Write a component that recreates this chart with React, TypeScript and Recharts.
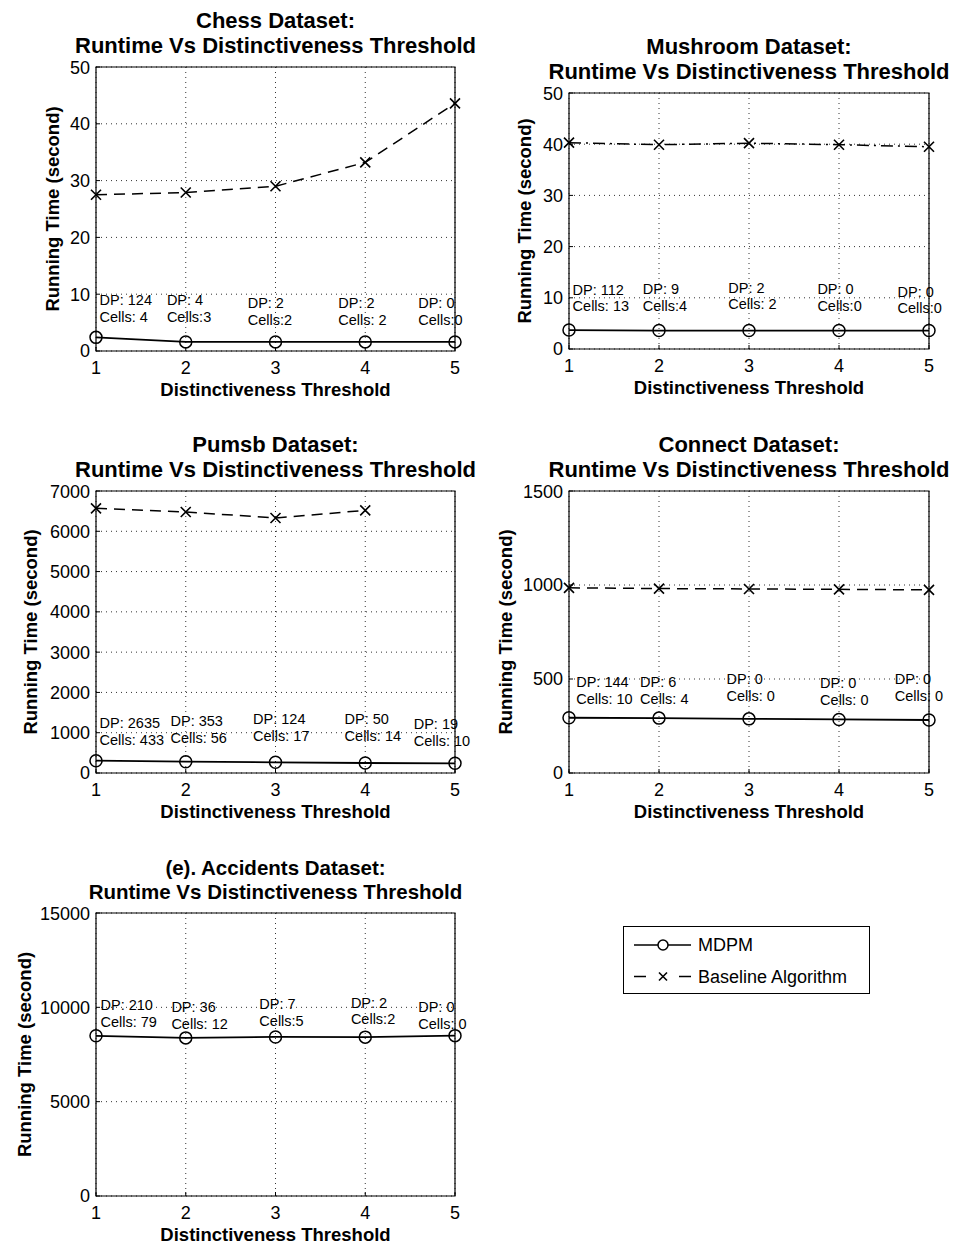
import React from "react";
import {
  LineChart,
  Line,
  XAxis,
  YAxis,
  CartesianGrid,
  ReferenceArea,
  ReferenceDot,
  Legend,
} from "recharts";

const FONT = '"Liberation Sans", Arial, Helvetica, sans-serif';

// x values shared by all five plots
const thresholds = [1, 2, 3, 4, 5];

// Chess
const chessMdpm = [2.4, 1.6, 1.6, 1.6, 1.6];
const chessBaseline = [27.5, 27.9, 29.0, 33.2, 43.6];
const chessDP = ["DP: 124", "DP: 4", "DP: 2", "DP: 2", "DP: 0"];
const chessCells = ["Cells: 4", "Cells:3", "Cells:2", "Cells: 2", "Cells:0"];
const chessNoteX = [1.04, 1.79, 2.69, 3.7, 4.59];
const chessNoteY = [9.0, 9.0, 8.4, 8.4, 8.4];
const chessTicks = [0, 10, 20, 30, 40, 50];

// Mushroom
const mushroomMdpm = [3.7, 3.6, 3.6, 3.6, 3.6];
const mushroomBaseline = [40.3, 39.9, 40.2, 39.9, 39.5];
const mushroomDP = ["DP: 112", "DP: 9", "DP: 2", "DP: 0", "DP: 0"];
const mushroomCells = ["Cells: 13", "Cells:4", "Cells: 2", "Cells:0", "Cells:0"];
const mushroomNoteX = [1.04, 1.82, 2.77, 3.76, 4.65];
const mushroomNoteY = [11.6, 11.7, 12.0, 11.7, 11.2];
const mushroomTicks = [0, 10, 20, 30, 40, 50];

// Pumsb (baseline has no run at threshold 5)
const pumsbMdpm = [305, 280, 265, 248, 240];
const pumsbBaseline = [6570, 6480, 6330, 6520, null];
const pumsbDP = ["DP: 2635", "DP: 353", "DP: 124", "DP: 50", "DP: 19"];
const pumsbCells = ["Cells: 433", "Cells: 56", "Cells: 17", "Cells: 14", "Cells: 10"];
const pumsbNoteX = [1.04, 1.83, 2.75, 3.77, 4.54];
const pumsbNoteY = [1232, 1289, 1346, 1346, 1215];
const pumsbTicks = [0, 1000, 2000, 3000, 4000, 5000, 6000, 7000];

// Connect
const connectMdpm = [294, 292, 288, 285, 282];
const connectBaseline = [985, 981, 979, 977, 974];
const connectDP = ["DP: 144", "DP: 6", "DP: 0", "DP: 0", "DP: 0"];
const connectCells = ["Cells: 10", "Cells: 4", "Cells: 0", "Cells: 0", "Cells: 0"];
const connectNoteX = [1.08, 1.79, 2.75, 3.79, 4.62];
const connectNoteY = [482, 482, 498, 477, 498];
const connectTicks = [0, 500, 1000, 1500];

// Accidents (baseline did not finish)
const accidentsMdpm = [8490, 8380, 8430, 8420, 8500];
const accidentsBaseline = [null, null, null, null, null];
const accidentsDP = ["DP: 210", "DP: 36", "DP: 7", "DP: 2", "DP: 0"];
const accidentsCells = ["Cells: 79", "Cells: 12", "Cells:5", "Cells:2", "Cells: 0"];
const accidentsNoteX = [1.05, 1.84, 2.82, 3.84, 4.59];
const accidentsNoteY = [10110, 10020, 10165, 10250, 10020];
const accidentsTicks = [0, 5000, 10000, 15000];

const legendOrder = ["mdpm", "baseline"];

const ML = 90;
const MT = 10;
const MB = 60;

const Cross = (props: any) => {
  const { cx, cy, index, value } = props;
  if (cx == null || cy == null || value == null) return <g key={"x" + index} />;
  const s = 5;
  return (
    <path
      key={"x" + index}
      d={`M${cx - s},${cy - s}L${cx + s},${cy + s}M${cx - s},${cy + s}L${cx + s},${cy - s}`}
      stroke="#000"
      strokeWidth={1.6}
      fill="none"
    />
  );
};

const LegendBox = (props: any) => {
  const items = [...(props.payload || [])].sort(
    (a: any, b: any) => legendOrder.indexOf(a.dataKey) - legendOrder.indexOf(b.dataKey)
  );
  return (
    <div style={{ width: 247, height: 68, border: "1px solid #000", background: "#fff", boxSizing: "border-box" }}>
      <svg width={245} height={66} style={{ display: "block" }}>
        {items.map((it: any, i: number) => {
          const y = 18 + i * 31.5;
          const isBase = it.dataKey === "baseline";
          return (
            <g key={it.value}>
              {isBase ? (
                <>
                  <line x1={10} x2={22} y1={y} y2={y} stroke="#000" strokeWidth={1.5} />
                  <line x1={55} x2={67} y1={y} y2={y} stroke="#000" strokeWidth={1.5} />
                  <path d={`M${35},${y - 4}L${43},${y + 4}M${35},${y + 4}L${43},${y - 4}`} stroke="#000" strokeWidth={1.6} />
                </>
              ) : (
                <>
                  <line x1={10} x2={67} y1={y} y2={y} stroke="#000" strokeWidth={1.5} />
                  <circle cx={39} cy={y} r={5} stroke="#000" strokeWidth={1.5} fill="#fff" />
                </>
              )}
              <text x={74} y={y} dominantBaseline="central" fontFamily={FONT} fontSize={18} fill="#000">
                {it.value}
              </text>
            </g>
          );
        })}
      </svg>
    </div>
  );
};

type PanelProps = {
  title: string;
  left: number;
  top: number;
  w: number;
  h: number;
  ticks: number[];
  mdpm: (number | null)[];
  baseline: (number | null)[];
  dp: string[];
  cells: string[];
  noteX: number[];
  noteY: number[];
  yLabelDist: number;
  dash: string;
  titleSize?: number;
  legend?: boolean;
};

function Panel(p: PanelProps) {
  const data = thresholds.map((t, i) => ({ t, mdpm: p.mdpm[i], baseline: p.baseline[i] }));
  const yMax = p.ticks[p.ticks.length - 1];
  const MR = p.legend ? 430 : 30;
  const titleSize = p.titleSize ?? 22;
  const lh = titleSize + 3;
  return (
    <>
      <div
        style={{
          position: "absolute",
          left: p.left + p.w / 2 - 250,
          top: p.top - 21.5 - lh / 2 - lh,
          width: 500,
          textAlign: "center",
          fontFamily: FONT,
          fontWeight: "bold",
          fontSize: titleSize,
          lineHeight: lh + "px",
          color: "#000",
        }}
      >
        <div>{p.title}</div>
        <div>Runtime Vs Distinctiveness Threshold</div>
      </div>
      <div style={{ position: "absolute", left: p.left - ML, top: p.top - MT }}>
        <LineChart
          width={ML + p.w + MR}
          height={MT + p.h + MB}
          data={data}
          margin={{ top: MT, right: MR, bottom: 0, left: 0 }}
        >
          <CartesianGrid stroke="#333" strokeDasharray="1 4" />
          <XAxis
            dataKey="t"
            type="number"
            domain={[1, 5]}
            ticks={thresholds}
            height={MB}
            tickLine={{ stroke: "#000" }}
            axisLine={false}
            tickSize={-4}
            tickMargin={14}
            tick={{ fill: "#000", fontSize: 18, fontFamily: FONT }}
            label={() => (
              <text
                x={ML + p.w / 2}
                y={MT + p.h + 38}
                textAnchor="middle"
                dominantBaseline="central"
                fontFamily={FONT}
                fontWeight="bold"
                fontSize={18.5}
                fill="#000"
              >
                Distinctiveness Threshold
              </text>
            )}
          />
          <YAxis
            type="number"
            domain={[0, yMax]}
            ticks={p.ticks}
            width={ML}
            tickLine={{ stroke: "#000" }}
            axisLine={false}
            tickSize={-4}
            tickMargin={10}
            tick={{ fill: "#000", fontSize: 18, fontFamily: FONT }}
            label={() => {
              const x = ML - p.yLabelDist;
              const y = MT + p.h / 2;
              return (
                <text
                  x={x}
                  y={y}
                  transform={`rotate(-90 ${x} ${y})`}
                  textAnchor="middle"
                  dominantBaseline="central"
                  fontFamily={FONT}
                  fontWeight="bold"
                  fontSize={18.5}
                  fill="#000"
                >
                  Running Time (second)
                </text>
              );
            }}
          />
          <ReferenceArea x1={1} x2={5} y1={0} y2={yMax} fill="none" stroke="#000" strokeWidth={1.2} />
          {p.dp.map((d, i) => (
            <ReferenceDot
              key={"n" + i}
              x={p.noteX[i]}
              y={p.noteY[i]}
              r={0}
              ifOverflow="visible"
              label={(lp: any) => {
                const vb = lp.viewBox || { x: 0, y: 0 };
                return (
                  <text
                    x={vb.x}
                    y={vb.y}
                    dominantBaseline="central"
                    fontFamily={FONT}
                    fontSize={14.5}
                    fill="#000"
                  >
                    <tspan x={vb.x}>{d}</tspan>
                    <tspan x={vb.x} dy={16.8}>
                      {p.cells[i]}
                    </tspan>
                  </text>
                );
              }}
            />
          ))}
          <Line
            dataKey="mdpm"
            name="MDPM"
            stroke="#000"
            strokeWidth={1.8}
            dot={{ r: 6, stroke: "#000", strokeWidth: 1.5, fill: "none" }}
            isAnimationActive={false}
          />
          <Line
            dataKey="baseline"
            name="Baseline Algorithm"
            stroke="#000"
            strokeWidth={1.5}
            strokeDasharray={p.dash}
            dot={Cross}
            isAnimationActive={false}
          />
          {p.legend && (
            <Legend
              layout="vertical"
              align="center"
              verticalAlign="middle"
              content={LegendBox}
              wrapperStyle={{ left: 623 - (p.left - ML), top: 926 - (p.top - MT), width: 247, height: 68 }}
            />
          )}
        </LineChart>
      </div>
    </>
  );
}

export default function App() {
  return (
    <div style={{ position: "absolute", left: 0, top: 0, width: 961, height: 1248, background: "#fff" }}>
      <Panel
        title="Chess Dataset:"
        left={96}
        top={67}
        w={359}
        h={284}
        ticks={chessTicks}
        mdpm={chessMdpm}
        baseline={chessBaseline}
        dp={chessDP}
        cells={chessCells}
        noteX={chessNoteX}
        noteY={chessNoteY}
        yLabelDist={44}
        dash="11 7"
      />
      <Panel
        title="Mushroom Dataset:"
        left={569}
        top={93}
        w={360}
        h={256}
        ticks={mushroomTicks}
        mdpm={mushroomMdpm}
        baseline={mushroomBaseline}
        dp={mushroomDP}
        cells={mushroomCells}
        noteX={mushroomNoteX}
        noteY={mushroomNoteY}
        yLabelDist={45}
        dash="12 5 2 5"
      />
      <Panel
        title="Pumsb Dataset:"
        left={96}
        top={491}
        w={359}
        h={282}
        ticks={pumsbTicks}
        mdpm={pumsbMdpm}
        baseline={pumsbBaseline}
        dp={pumsbDP}
        cells={pumsbCells}
        noteX={pumsbNoteX}
        noteY={pumsbNoteY}
        yLabelDist={66}
        dash="11 7"
      />
      <Panel
        title="Connect Dataset:"
        left={569}
        top={491}
        w={360}
        h={282}
        ticks={connectTicks}
        mdpm={connectMdpm}
        baseline={connectBaseline}
        dp={connectDP}
        cells={connectCells}
        noteX={connectNoteX}
        noteY={connectNoteY}
        yLabelDist={64}
        dash="11 7"
      />
      <Panel
        title="(e). Accidents Dataset:"
        left={96}
        top={913}
        w={359}
        h={283}
        ticks={accidentsTicks}
        mdpm={accidentsMdpm}
        baseline={accidentsBaseline}
        dp={accidentsDP}
        cells={accidentsCells}
        noteX={accidentsNoteX}
        noteY={accidentsNoteY}
        yLabelDist={72}
        dash="11 7"
        titleSize={20.5}
        legend
      />
    </div>
  );
}
